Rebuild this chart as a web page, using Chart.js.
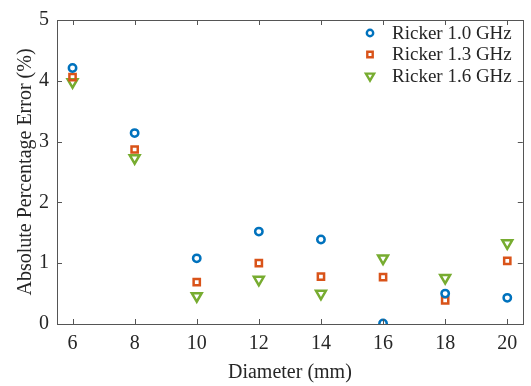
<!DOCTYPE html>
<html lang="en">

<head>
    <meta charset="UTF-8">
    <title>Absolute Percentage Error</title>
    <script src="https://cdn.jsdelivr.net/npm/chart.js"></script>
    <style>
        body { margin: 0; background: #ffffff; }
        canvas { display: block; }
    </style>
</head>

<body>
    <canvas id="myCanvas" width="531" height="386"></canvas>
</body>

</html>

<script>
    // dados
    const diametros = [6, 8, 10, 12, 14, 16, 18, 20];
    const ricker10 = [4.21, 3.14, 1.08, 1.52, 1.39, 0.01, 0.50, 0.43];
    const ricker13 = [4.06, 2.87, 0.69, 1.00, 0.78, 0.77, 0.39, 1.04];
    const ricker16 = [3.98, 2.73, 0.46, 0.73, 0.50, 1.08, 0.76, 1.33];
    const xTicks = [6, 8, 10, 12, 14, 16, 18, 20];
    const yTicks = [0, 1, 2, 3, 4, 5];
    const legendas = ["Ricker 1.0 GHz", "Ricker 1.3 GHz", "Ricker 1.6 GHz"];

    const fonte = "'Liberation Serif', 'Times New Roman', serif";
    const corTexto = "#262626";
    const corEixo = "#555555";

    function pontos(valores) {
        return diametros.map(function (d, i) { return { x: d, y: valores[i] }; });
    }

    // caixa + ticks para dentro, estilo matlab
    const caixaPlugin = {
        id: "caixa",
        afterDraw(chart) {
            const ctx = chart.ctx;
            const a = chart.chartArea;
            const sx = chart.scales.x;
            const sy = chart.scales.y;
            const L = 5;
            ctx.save();
            ctx.strokeStyle = corEixo;
            ctx.lineWidth = 1;
            ctx.beginPath();
            xTicks.forEach(function (v) {
                const px = Math.round(sx.getPixelForValue(v)) + 0.5;
                ctx.moveTo(px, a.bottom);
                ctx.lineTo(px, a.bottom - L);
                ctx.moveTo(px, a.top);
                ctx.lineTo(px, a.top + L);
            });
            yTicks.forEach(function (v) {
                const py = Math.round(sy.getPixelForValue(v)) + 0.5;
                ctx.moveTo(a.left, py);
                ctx.lineTo(a.left + L, py);
                ctx.moveTo(a.right, py);
                ctx.lineTo(a.right - L, py);
            });
            ctx.stroke();
            ctx.strokeRect(Math.round(a.left) + 0.5, Math.round(a.top) + 0.5,
                Math.round(a.right - a.left), Math.round(a.bottom - a.top));
            ctx.restore();
        }
    };

    function desenharMarcador(ctx, estilo, x, y, r) {
        ctx.beginPath();
        if (estilo === "circle") {
            ctx.arc(x, y, r, 0, Math.PI * 2);
        } else if (estilo === "rect") {
            ctx.rect(x - r, y - r, 2 * r, 2 * r);
        } else {
            ctx.moveTo(x - r * 0.87, y - r * 0.5);
            ctx.lineTo(x + r * 0.87, y - r * 0.5);
            ctx.lineTo(x, y + r);
            ctx.closePath();
        }
        ctx.stroke();
    }

    // legenda dentro da área do gráfico
    const legendaPlugin = {
        id: "legendaInterna",
        afterDraw(chart) {
            const ctx = chart.ctx;
            const linhasY = [33, 54.5, 76];
            const tamanhos = [3.2, 2.7, 4.7];
            ctx.save();
            chart.data.datasets.forEach(function (ds, i) {
                ctx.strokeStyle = ds.borderColor;
                ctx.lineWidth = 2.4;
                desenharMarcador(ctx, ds.pointStyle, 370, linhasY[i], tamanhos[i]);
                ctx.fillStyle = corTexto;
                ctx.font = "19px " + fonte;
                ctx.textBaseline = "middle";
                ctx.textAlign = "left";
                ctx.fillText(ds.label, 392, linhasY[i] + 1);
            });
            ctx.restore();
        }
    };

    const dados = {
        datasets: [
            {
                label: legendas[0],
                data: pontos(ricker10),
                pointStyle: "circle",
                pointRadius: 3.7,
                pointBorderWidth: 2.5,
                borderColor: "#0072BD",
                backgroundColor: "rgba(0,0,0,0)"
            },
            {
                label: legendas[1],
                data: pontos(ricker13),
                pointStyle: "rect",
                pointRadius: 4.4,
                pointBorderWidth: 2.5,
                borderColor: "#D95319",
                backgroundColor: "rgba(0,0,0,0)"
            },
            {
                label: legendas[2],
                data: pontos(ricker16),
                pointStyle: "triangle",
                pointRotation: 180,
                pointRadius: 5.7,
                pointBorderWidth: 2.5,
                borderColor: "#77AC30",
                backgroundColor: "rgba(0,0,0,0)"
            }
        ]
    };

    const config = {
        type: "scatter",
        data: dados,
        options: {
            responsive: false,
            animation: false,
            layout: {
                padding: { top: 9, right: 8, left: 0, bottom: 0 }
            },
            scales: {
                x: {
                    type: "linear",
                    min: 5.5,
                    max: 20.5,
                    afterBuildTicks: function (s) {
                        s.ticks = xTicks.map(function (v) { return { value: v }; });
                    },
                    afterFit: function (s) { s.height = 62; },
                    grid: { display: false, drawTicks: false },
                    border: { display: false },
                    ticks: {
                        color: corTexto,
                        font: { family: fonte, size: 20 },
                        padding: 8,
                        maxRotation: 0
                    },
                    title: {
                        display: true,
                        text: "Diameter (mm)",
                        color: corTexto,
                        font: { family: fonte, size: 20 },
                        padding: { top: 0, bottom: 1 }
                    }
                },
                y: {
                    type: "linear",
                    min: 0,
                    max: 5,
                    afterBuildTicks: function (s) {
                        s.ticks = yTicks.map(function (v) { return { value: v }; });
                    },
                    afterFit: function (s) { s.width = 57; },
                    grid: { display: false, drawTicks: false },
                    border: { display: false },
                    ticks: {
                        color: corTexto,
                        font: { family: fonte, size: 20 },
                        padding: 8
                    },
                    title: {
                        display: true,
                        text: "Absolute Percentage Error (%)",
                        color: corTexto,
                        font: { family: fonte, size: 20 },
                        padding: { top: 14, bottom: 0 }
                    }
                }
            },
            plugins: {
                legend: { display: false },
                tooltip: { enabled: false }
            }
        },
        plugins: [caixaPlugin, legendaPlugin]
    };

    let myChart = new Chart(document.getElementById("myCanvas"), config);
</script>
